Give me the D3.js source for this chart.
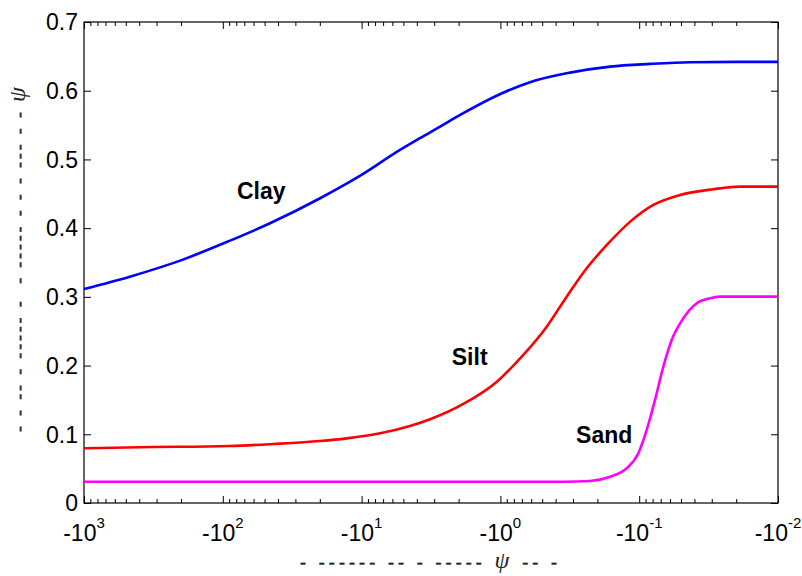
<!DOCTYPE html>
<html><head><meta charset="utf-8">
<script src="https://cdn.jsdelivr.net/npm/d3@7"></script>
<style>body{margin:0;background:#fff}svg{display:block}</style>
</head><body><svg id="c" width="802" height="576"></svg>
<script>
// ---- data ----
const psiClay   = [-1000, -467, -203, -88.7, -45.7, -19.9, -10.3, -5.29, -3.8, -2.72, -1.95, -1.0, -0.612, -0.315, -0.162, -0.0836, -0.043, -0.02, -0.01];
const thetaClay = [0.3115, 0.3294, 0.3527, 0.3818, 0.4071, 0.4435, 0.476, 0.5138, 0.531, 0.5477, 0.5648, 0.5953, 0.6124, 0.6263, 0.6351, 0.639, 0.6415, 0.642, 0.642];

const psiSilt   = [-1000, -400, -88.7, -43.4, -19.9, -12.8, -7.36, -4.48, -3.21, -1.85, -1.06, -0.684, -0.464, -0.333, -0.239, -0.171, -0.116, -0.0791, -0.0508, -0.0292, -0.0188, -0.01];
const thetaSilt = [0.0796, 0.0812, 0.083, 0.0859, 0.0902, 0.0941, 0.1014, 0.112, 0.1218, 0.1441, 0.1766, 0.2154, 0.2566, 0.3003, 0.3416, 0.3755, 0.4095, 0.4338, 0.4483, 0.4566, 0.4604, 0.4604];

const psiSand   = [-1000, -0.35, -0.226, -0.162, -0.123, -0.1014, -0.0883, -0.0769, -0.067, -0.0583, -0.0481, -0.0385, -0.0309, -0.0262, -0.01];
const thetaSand = [0.031, 0.031, 0.032, 0.0383, 0.0505, 0.0723, 0.1063, 0.15, 0.1984, 0.2373, 0.2688, 0.2907, 0.298, 0.3003, 0.3003];

const seriesNames  = ["Clay", "Silt", "Sand"];
const seriesColors = ["#0000ff", "#ff0000", "#ff00ff"];
const labelPsi     = [-79, -2.24, -0.285];
const labelTheta   = [0.4425, 0.2009, 0.0878];

const yTicks     = [0, 0.1, 0.2, 0.3, 0.4, 0.5, 0.6, 0.7];
const yTickText  = ["0", "0.1", "0.2", "0.3", "0.4", "0.5", "0.6", "0.7"];
const xMajorExp  = [3, 2, 1, 0, -1, -2];
const xLabelParts = ["- ------ -- - ----- ", "\u03C8", " -- -"];
const yLabelParts = ["- - -- - ----- -  - ----- - - - --- - - ", "\u03C8", ""];

// ---- chart ----
const svg = d3.select("#c");
const L = 84, R = 778, T = 22, B = 503;
const x = d3.scaleLog().domain([1000, 0.01]).range([L, R]);
const y = d3.scaleLinear().domain([0, 0.7]).range([B, T]);
const sans = "'Liberation Sans', Arial, Helvetica, sans-serif";
const serif = "'Liberation Serif', 'Times New Roman', serif";

svg.append("rect").attr("width", 802).attr("height", 576).attr("fill", "#fff");

const majorVals = xMajorExp.map(e => Math.pow(10, e));
const minorVals = [];
for (let e = -2; e <= 2; e++) for (let m = 2; m <= 9; m++) minorVals.push(m * Math.pow(10, e));

function styleAxis(g) { g.select(".domain").remove(); g.selectAll("line").attr("stroke", "#000"); }

svg.append("g").attr("transform", `translate(0,${B})`).call(d3.axisBottom(x).tickValues(majorVals).tickSize(-7).tickFormat("")).call(styleAxis);
svg.append("g").attr("transform", `translate(0,${B})`).call(d3.axisBottom(x).tickValues(minorVals).tickSize(-4).tickFormat("")).call(styleAxis);
svg.append("g").attr("transform", `translate(0,${T})`).call(d3.axisTop(x).tickValues(majorVals).tickSize(-7).tickFormat("")).call(styleAxis);
svg.append("g").attr("transform", `translate(0,${T})`).call(d3.axisTop(x).tickValues(minorVals).tickSize(-4).tickFormat("")).call(styleAxis);
svg.append("g").attr("transform", `translate(${L},0)`).call(d3.axisLeft(y).tickValues(yTicks).tickSize(-7).tickFormat("")).call(styleAxis);
svg.append("g").attr("transform", `translate(${R},0)`).call(d3.axisRight(y).tickValues(yTicks).tickSize(-7).tickFormat("")).call(styleAxis);

svg.append("rect").attr("x", L).attr("y", T).attr("width", R - L).attr("height", B - T)
  .attr("fill", "none").attr("stroke", "#000").attr("stroke-width", 1.2);

// y tick labels
svg.selectAll(".ytl").data(yTicks).enter().append("text")
  .attr("x", L - 6).attr("y", d => y(d)).attr("dy", "0.36em")
  .attr("text-anchor", "end").attr("font-family", sans).attr("font-size", 23)
  .text((d, i) => yTickText[i]);

// x tick labels with superscript exponents
const xl = svg.selectAll(".xtl").data(xMajorExp).enter().append("text")
  .attr("x", d => x(Math.pow(10, d))).attr("y", 541)
  .attr("text-anchor", "middle").attr("font-family", sans).attr("font-size", 23);
xl.append("tspan").text("-10");
xl.append("tspan").attr("dy", -13).attr("font-size", 15).text(d => String(d));

// series
const line = d3.line().x(d => x(-d[0])).y(d => y(d[1])).curve(d3.curveMonotoneX);
const series = [[psiClay, thetaClay], [psiSilt, thetaSilt], [psiSand, thetaSand]];
series.forEach((s, i) => {
  svg.append("path").datum(s[0].map((p, j) => [p, s[1][j]]))
    .attr("d", line).attr("fill", "none").attr("stroke", seriesColors[i])
    .attr("stroke-width", 2.6).attr("stroke-linejoin", "round");
});

// curve labels
svg.selectAll(".lbl").data(seriesNames).enter().append("text")
  .attr("x", (d, i) => x(-labelPsi[i])).attr("y", (d, i) => y(labelTheta[i]))
  .attr("font-family", sans).attr("font-weight", "bold").attr("font-size", 23)
  .attr("fill", "#000").text(d => d);

// axis titles (as rendered in the reference)
function addTitle(parts, attrs, len) {
  const t = svg.append("text").attr("font-family", serif).attr("font-style", "italic")
    .attr("fill", "#222").style("white-space", "pre")
    .attr("textLength", len).attr("lengthAdjust", "spacing");
  Object.entries(attrs).forEach(([k, v]) => t.attr(k, v));
  t.append("tspan").attr("font-size", 18).attr("stroke", "#222").attr("stroke-width", 0.4).text(parts[0]);
  t.append("tspan").attr("font-size", 24).text(parts[1]);
  if (parts[2]) t.append("tspan").attr("font-size", 18).attr("stroke", "#222").attr("stroke-width", 0.4).text(parts[2]);
}
addTitle(xLabelParts, { x: 300, y: 568 }, 257);
addTitle(yLabelParts, { transform: "translate(25,432) rotate(-90)" }, 345);
</script>
</body></html>
